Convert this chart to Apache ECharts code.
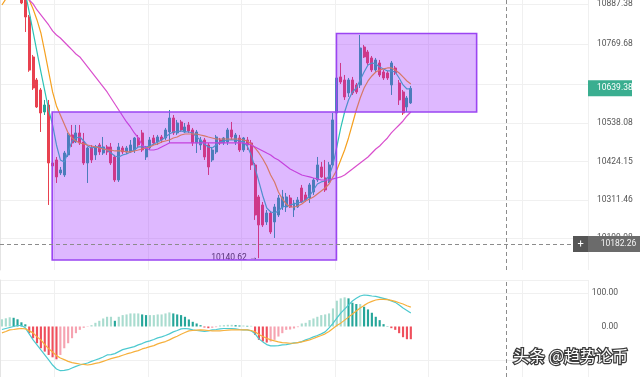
<!DOCTYPE html>
<html>
<head>
<meta charset="utf-8">
<script src="https://cdn.jsdelivr.net/npm/echarts@6.0.0/dist/echarts.min.js"></script>
<style>html,body{margin:0;padding:0;background:#fff}#c{width:640px;height:377px}</style>
</head>
<body>
<div id="c"></div>
<script>
// ---------- data (hourly candles, index 0..105) ----------
const opens = [null,null,null,null,null,
10905,10899,10849,10731.6,10664,
10634.7,10570,10590.6,10420.3,10429.1,
10390.9,10385,10443.8,10502.5,10482,
10508.4,10482,10420.3,10464.3,10443.8,
10473.1,10449.6,10467.3,10467.3,10437.9,
10370.3,10464.3,10452.6,10452.6,10458.5,
10493.7,10508.4,10437.9,10464.3,10493.7,
10482,10496.6,10493.7,10511.3,10552.4,
10508.4,10540.7,10511.3,10531.9,10517.2,
10479,10473.1,10487.8,10473.1,10429.1,
10452.6,10487.8,10479,10482,10517.2,
10482,10493.7,10458.4,10487.8,10479,
10414.4,10320.4,10296.9,10247,10273.4,
10247,10267.5,10291,10291,10317.5,
10282.2,10291,10346.8,10326.3,10317.5,
10335.1,10370.3,10408.5,10376.2,10364.5,
10414.4,10567.1,10672.9,10664,10625.9,
10664,10649.4,10649.4,10760.9,10746.3,
10728.7,10693.4,10714,10687.5,10684.6,
10649.4,10699.3,10655.2,10628.8,10584.7,
10596.5];
const closes = [null,null,null,null,null,
10890,10849,10693,10640.5,10584.7,
10567.1,10590.6,10420.3,10411.5,10379.2,
10399.7,10449.6,10502.5,10479,10508.4,
10479,10420.3,10464.3,10429.1,10467.3,
10452.6,10467.3,10452.6,10420.3,10370.3,
10467.3,10452.6,10464.3,10473.1,10493.7,
10473.1,10458.4,10464.3,10487.8,10479,
10496.6,10487.8,10517.2,10552.4,10508.4,
10537.7,10517.2,10526,10514.3,10479,
10511.3,10487.8,10437.9,10408.5,10458.4,
10496.6,10479,10493.7,10517.2,10496.6,
10502.5,10458.4,10493.7,10473.1,10414.4,
10267.5,10238.2,10238.2,10273.4,10217.6,
10291,10317.5,10320.4,10320.4,10291,
10302.8,10311.6,10305.7,10311.6,10355.7,
10370.3,10414.4,10379.2,10341,10414.4,
10546.6,10669.9,10658.2,10614.1,10664,
10625.9,10628.8,10758,10731.6,10714,
10693.4,10722.8,10678.7,10669.9,10669.9,
10714,10684.6,10605.3,10567.1,10611.2,
10639.38];
const lows = [null,null,null,null,null,
10887,10805,10688,10634.7,10581.8,
10511.3,10561.2,10296.9,10399.7,10361.5,
10385,10379.2,10437.9,10467.3,10479,
10473.1,10414.4,10361.5,10420.3,10429.1,
10443.8,10443.8,10443.8,10414.4,10364.5,
10364.5,10446.7,10446.7,10449.6,10449.6,
10467.3,10452.6,10429.1,10458.4,10473.1,
10473.1,10479,10487.8,10479,10502.5,
10502.5,10511.3,10508.4,10508.4,10470.2,
10449.6,10458.4,10429.1,10385,10423.2,
10446.7,10473.1,10473.1,10473.1,10487.8,
10473.1,10452.6,10452.6,10458.4,10399.7,
10252.9,10140.62,10232.3,10238.2,10211.7,
10200,10261.7,10282.2,10276.4,10288,
10261.7,10288,10302.8,10305.7,10302.8,
10326.3,10364.5,10376.2,10335.1,10361.5,
10408.5,10552.4,10652.3,10605.3,10614.1,
10620,10623,10640.5,10728.7,10708.1,
10687.5,10687.5,10672.9,10664,10664,
10620,10678.7,10590.6,10561.2,10570,
10593.5];
const highs = [null,null,null,null,null,
10914,10908,10855,10737.5,10669.9,
10640.5,10605.3,10605.3,10429.1,10437.9,
10408.5,10455.5,10508.4,10531.9,10531.9,
10531.9,10508.4,10467.3,10473.1,10473.1,
10479,10496.6,10473.1,10479,10443.8,
10479,10470.2,10470.2,10487.8,10496.6,
10502.5,10517.2,10470.2,10496.6,10502.5,
10502.5,10502.5,10523.1,10575.9,10561.2,
10546.6,10546.6,10537.7,10540.7,10523.1,
10517.2,10496.6,10493.7,10479,10467.3,
10502.5,10493.7,10496.6,10523.1,10540.7,
10508.4,10502.5,10496.6,10496.6,10487.8,
10420.3,10326.3,10305.7,10282.2,10279.3,
10299.9,10326.3,10341,10332.2,10326.3,
10311.6,10320.4,10355.7,10335.1,10361.5,
10376.2,10437.9,10423.2,10429.1,10423.2,
10567.1,10678.7,10714,10678.7,10669.9,
10672.9,10655.2,10796.2,10766.8,10752.2,
10734.5,10728.7,10722.8,10693.4,10690.5,
10719.8,10705.2,10664,10634.7,10617,
10646.4];
const maFast = [null,null,null,null,null,
10972,10919.6,10863.8,10805,10746.3,
10687.5,10631.7,10575.9,10531.9,10473.1,
10429.1,10423.2,10452.6,10484.9,10493.7,
10496.6,10484.9,10470.2,10464.3,10467.3,
10467.3,10464.3,10458.4,10449.6,10440.8,
10437.9,10443.8,10446.7,10452.6,10458.4,
10467.3,10467.3,10467.3,10470.2,10476.1,
10482,10487.8,10496.6,10505.4,10511.3,
10511.3,10514.3,10511.3,10511.3,10508.4,
10496.6,10487.8,10476.1,10467.3,10464.3,
10473.1,10482,10484.9,10487.8,10487.8,
10487.8,10484.9,10482,10470.2,10443.8,
10405.6,10364.5,10323.3,10288.1,10276.4,
10273.4,10279.3,10291,10293.9,10296.9,
10299.9,10302.8,10305.7,10311.6,10323.3,
10341,10358.6,10364.5,10367.4,10382.1,
10414.4,10467.3,10523.1,10570,10605.3,
10628.8,10640.5,10664,10687.5,10708.1,
10714,10711,10702.2,10696.4,10690.5,
10690.5,10687.5,10669.9,10649.4,10637.6,
10637.6];
const maMid = [10884.3,10902,10922.5,10928.4,10928.4,
10922.5,10910.7,10899,10872.6,10840.3,
10802.1,10746.3,10687.5,10628.8,10587.7,
10561.2,10534.8,10508.4,10493.7,10484.9,
10479,10476.1,10473.1,10470.2,10467.3,
10464.3,10461.4,10458.4,10458.4,10455.5,
10455.5,10455.5,10452.6,10452.6,10455.5,
10458.4,10461.4,10464.3,10467.3,10473.1,
10476.1,10482,10484.9,10487.8,10493.7,
10496.6,10502.5,10505.4,10505.4,10505.4,
10505.4,10502.5,10499.6,10496.6,10493.7,
10490.7,10490.7,10490.7,10490.7,10490.7,
10490.7,10490.7,10487.8,10484.9,10476.1,
10464.3,10449.6,10432,10411.5,10385,
10364.5,10335.1,10314.5,10299.9,10291,
10291,10293.9,10299.9,10308.7,10314.5,
10320.4,10329.2,10338,10346.8,10358.6,
10379.2,10399.7,10429.1,10458.4,10493.7,
10534.8,10575.9,10611.2,10640.5,10661.1,
10675.8,10687.5,10693.4,10696.4,10699.3,
10699.3,10693.4,10684.6,10672.9,10661.1,
10652.3];
const maSlow = [null,null,null,null,null,
10934,10913.7,10899,10887.3,10869.6,
10854.9,10840.3,10825.6,10808,10796.2,
10787.4,10775.6,10763.9,10752.2,10740.4,
10731.6,10716.9,10702.2,10687.5,10672.9,
10658.2,10643.5,10628.8,10611.2,10593.5,
10575.9,10558.3,10540.7,10526,10508.4,
10493.7,10473.1,10464.3,10458.4,10458.4,
10461.4,10467.3,10473.1,10479,10479,
10479,10479,10479,10479,10479,
10479,10479,10479,10479,10479,
10479,10479,10479,10479,10479,
10479,10479,10479,10476.1,10473.1,
10467.3,10461.4,10455.5,10449.6,10443.8,
10435,10429.1,10420.3,10411.5,10402.6,
10396.7,10390.9,10385,10382.1,10379.2,
10376.2,10373.3,10370.3,10370.3,10370.3,
10373.3,10376.2,10379.2,10385,10393.8,
10402.6,10411.5,10420.3,10429.1,10437.9,
10449.6,10461.4,10470.2,10482,10493.7,
10508.4,10520.2,10531.9,10543.6,10558.3,
10570];
const macdHist = [21.5,24.5,27.5,26,21.5,12.5,6.5,-20,-35,-50,
-65,-75,-85,-92,-98,-85,-65,-50,-35,-20,
-10,-4,-1,4,11,17,24,29,29,17,
29,34,36,39,39,39,36,34,34,34,
36,36,39,42,39,36,34,29,21,14,
9,4,-3,-5,-4,-2,3,4,5,5,
4,3,3,2,2,-25,-40,-45,-48,-45,
-40,-30,-20,-10,-9,-6,-2,9,11,19,
24,29,34,36,39,54,77,84,87,84,
71,67,67,59,51,41,29,19,7,1,
-5,-10,-20,-32,-38,-38];
const macdLine = [-9,-6,-3,0,3,3,-4,-22,-40,-55,
-70,-85,-100,-115,-127,-132,-131,-129,-124,-119,
-115,-112,-109,-104,-100,-96,-91,-85,-84,-81,
-75,-69,-66,-63,-60,-55,-51,-46,-43,-39,
-34,-31,-27,-22,-16,-12,-7,-6,-7,-10,
-12,-13,-15,-13,-10,-9,-7,-6,-6,-6,
-7,-9,-10,-10,-13,-22,-37,-46,-54,-58,
-58,-57,-55,-54,-52,-49,-48,-45,-40,-36,
-31,-27,-22,-16,-4,9,25,40,52,64,
76,84,91,94,93,91,90,87,84,81,
76,72,64,55,48,40];
const signalLine = [-19,-15,-10,-9,-7,-6,-7,-13,-19,-31,
-40,-54,-66,-76,-87,-94,-99,-104,-108,-110,
-112,-113,-115,-113,-110,-108,-104,-100,-96,-93,
-90,-86,-82,-79,-75,-72,-67,-64,-60,-57,
-52,-48,-45,-40,-34,-29,-23,-18,-13,-12,
-11,-10,-11,-12,-13,-13,-13,-12,-11,-10,
-10,-10,-10,-10,-12,-16,-24,-30,-35,-40,
-43,-46,-48,-49,-50,-50,-48,-46,-43,-40,
-36,-31,-27,-22,-15,-6,3,10,19,28,
37,46,55,63,70,75,79,81,81,80,
78,75,71,67,62,58];
const priceTicks = [10887.38, 10769.68, 10652.9, 10538.08, 10424.15, 10311.46, 10199.98];
const hiddenTickLabels = [10652.9];
const macdTicks = [100, 0];
const lastPrice = 10639.38;
const crossPrice = 10182.26;
const lowIndex = 66, lowPrice = 10140.62;
const crossSlot = 129.9;
const boxes = [
  {from: 13.4, to: 86.4, low: 10135.3, high: 10570.0},
  {from: 86.4, to: 122.4, low: 10570.0, high: 10800.6}
];
const SLOTS = 151;

// ---------- chart ----------
const chart = echarts.init(document.getElementById('c'), null, {renderer: 'canvas', width: 640, height: 377});
const cats = Array.from({length: SLOTS}, (_, i) => String(i));
const candleData = opens.map((o, i) => o == null ? '-' : [o, closes[i], lows[i], highs[i]]);
const toLine = a => a.map(v => v == null ? '-' : v);
const UP = '#26a69a', DOWN = '#e8414f';
const gridColor = '#f0f0f0';
const FONT = 'Roboto, sans-serif';
const CLEAR = 'rgba(0,0,0,0)';

function histColor(v, i) {
  const prev = i > 0 ? macdHist[i - 1] : v;
  if (v >= 0) return v >= prev ? '#a9dccf' : '#26a69a';
  return v <= prev ? '#ef4f5c' : '#f6a3b1';
}
const catAxis = (g) => ({
  type: 'category', gridIndex: g, data: cats, boundaryGap: true,
  axisLine: {show: false}, axisTick: {show: false}, axisLabel: {show: false},
  splitLine: {show: true, interval: (i) => i % 24 === 14, lineStyle: {color: gridColor, width: 1}}
});
const valAxis = (g) => ({type: 'value', gridIndex: g, min: 0, max: SLOTS, show: false});
const noMarks = {show: false};

const option = {
  animation: false,
  backgroundColor: '#ffffff',
  grid: [
    {left: 0, top: 0, width: 588, height: 270},
    {left: 0, top: 280, width: 588, height: 97}
  ],
  xAxis: [catAxis(0), valAxis(0), catAxis(1), valAxis(1)],
  yAxis: [
    {type: 'value', gridIndex: 0, position: 'right', min: 10105.9, max: 10898.9, scale: true,
     axisLine: {show: true, lineStyle: {color: '#e4e4e4'}}, axisTick: noMarks, axisLabel: noMarks, splitLine: noMarks},
    {type: 'value', gridIndex: 1, position: 'right', min: -150.8, max: 138.8,
     axisLine: {show: true, lineStyle: {color: '#e4e4e4'}}, axisTick: noMarks, axisLabel: noMarks, splitLine: noMarks}
  ],
  series: [
    // price grid lines + labels
    {type: 'line', xAxisIndex: 1, yAxisIndex: 0, data: [], z: 0, silent: true,
     markLine: {silent: true, symbol: ['none', 'none'], animation: false, z: 0,
       lineStyle: {color: gridColor, width: 1, type: 'solid'},
       label: {show: true, position: 'end', distance: 9, color: '#555', fontSize: 8.5, fontFamily: FONT},
       data: priceTicks.map(v => ({yAxis: v, label: {show: hiddenTickLabels.indexOf(v) < 0, formatter: v.toFixed(2)}}))}},
    // candles
    {type: 'candlestick', name: 'BTC', xAxisIndex: 0, yAxisIndex: 0, data: candleData, barWidth: '64%', z: 2,
     itemStyle: {color: UP, color0: DOWN, borderColor: UP, borderColor0: DOWN, borderWidth: 1},
     markPoint: {silent: true, animation: false, z: 4,
       data: [{coord: [String(lowIndex), lowPrice], symbol: 'circle', symbolSize: 1,
         itemStyle: {color: CLEAR},
         label: {show: true, position: 'left', distance: 1, formatter: lowPrice.toFixed(2) + ' →',
           color: '#333', fontSize: 8.5, fontFamily: FONT}}]}},
    {type: 'line', name: 'MA7', xAxisIndex: 0, yAxisIndex: 0, data: toLine(maFast), symbol: 'none', z: 3,
     lineStyle: {color: '#2cc2b5', width: 1.2}},
    {type: 'line', name: 'MA25', xAxisIndex: 0, yAxisIndex: 0, data: toLine(maMid), symbol: 'none', z: 3,
     lineStyle: {color: '#f5a01f', width: 1.2}},
    {type: 'line', name: 'MA99', xAxisIndex: 0, yAxisIndex: 0, data: toLine(maSlow), symbol: 'none', z: 3,
     lineStyle: {color: '#d94fcd', width: 1.2}},
    // rectangles (over the candles)
    {type: 'line', xAxisIndex: 1, yAxisIndex: 0, data: [], z: 10, silent: true,
     markArea: {silent: true, animation: false, z: 10,
       itemStyle: {color: 'rgba(156,39,255,0.33)', borderColor: '#9b45f2', borderWidth: 1.6},
       data: boxes.map(b => [{coord: [b.from, b.high]}, {coord: [b.to, b.low]}])}},
    // crosshair + price tags
    {type: 'line', xAxisIndex: 1, yAxisIndex: 0, data: [], z: 12, silent: true,
     markLine: {silent: true, symbol: ['none', 'none'], animation: false, z: 12,
       lineStyle: {color: '#8c8c8c', width: 1, type: [4, 3]},
       data: [
         {xAxis: crossSlot, label: {show: false}},
         {yAxis: crossPrice, label: {show: true, position: 'end', distance: -15,
           formatter: '{p|+}{v|' + crossPrice.toFixed(2) + '}',
           rich: {
             p: {backgroundColor: '#555555', color: '#ffffff', width: 15, height: 16, lineHeight: 16, align: 'center', fontSize: 11, fontFamily: FONT},
             v: {backgroundColor: '#6b6b6b', color: '#f4f4f4', width: 43, height: 16, lineHeight: 16, padding: [0, 0, 0, 9], fontSize: 8.5, fontFamily: FONT}
           }}},
         {yAxis: lastPrice, lineStyle: {color: CLEAR}, label: {show: true, position: 'end', distance: 0,
           formatter: '{v|' + lastPrice.toFixed(2) + '}',
           rich: {
             v: {backgroundColor: '#3aae90', color: '#ffffff', width: 35, height: 16, lineHeight: 16, padding: [0, 0, 0, 9], fontSize: 8.5, fontFamily: FONT}
           }}}
       ]}},
    // MACD grid lines + labels
    {type: 'line', xAxisIndex: 3, yAxisIndex: 1, data: [], z: 0, silent: true,
     markLine: {silent: true, symbol: ['none', 'none'], animation: false, z: 0,
       lineStyle: {color: gridColor, width: 1, type: 'solid'},
       label: {show: false},
       data: [
         {yAxis: 138.5},
         {yAxis: -100},
         ...macdTicks.map(v => ({yAxis: v, lineStyle: v === 0 ? {color: CLEAR} : {},
           label: {show: true, position: 'end', distance: 5, formatter: '{a|' + v.toFixed(2) + '}',
             rich: {a: {width: 25, align: 'right', color: '#555', fontSize: 8.5, fontFamily: FONT}}}}))
       ]}},
    {type: 'bar', name: 'Histogram', xAxisIndex: 2, yAxisIndex: 1, barWidth: '55%', z: 2,
     data: macdHist.map((v, i) => ({value: v, itemStyle: {color: histColor(v, i)}}))},
    {type: 'line', name: 'MACD', xAxisIndex: 2, yAxisIndex: 1, data: macdLine, symbol: 'none', z: 3,
     lineStyle: {color: '#4cc9cf', width: 1.2}},
    {type: 'line', name: 'Signal', xAxisIndex: 2, yAxisIndex: 1, data: signalLine, symbol: 'none', z: 3,
     lineStyle: {color: '#f6b03c', width: 1.2}},
    {type: 'line', xAxisIndex: 3, yAxisIndex: 1, data: [], z: 12, silent: true,
     markLine: {silent: true, symbol: ['none', 'none'], animation: false, z: 12,
       lineStyle: {color: '#8c8c8c', width: 1, type: [4, 3]},
       label: {show: false}, data: [{xAxis: crossSlot}]}}
  ],
  graphic: [{
    type: 'text', left: 512, top: 347, z: 100, silent: true,
    style: {text: '头条 @趋势论币', fill: '#ffffff', stroke: '#3a3a3a', lineWidth: 2.5,
      font: '16px "Noto Sans CJK SC", sans-serif'}
  }]
};
chart.setOption(option);
</script>
</body>
</html>
